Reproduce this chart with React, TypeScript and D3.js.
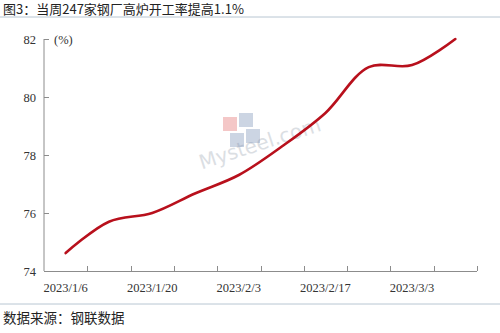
import React from "react";
import * as d3 from "d3";

const categories = ["2023/1/6", "2023/1/13", "2023/1/20", "2023/1/27", "2023/2/3", "2023/2/10", "2023/2/17", "2023/2/24", "2023/3/3", "2023/3/10"];
const values = [74.62, 75.7, 76.0, 76.68, 77.31, 78.3, 79.45, 81.03, 81.1, 82.0];
const yTicks = [74, 76, 78, 80, 82];
const xLabelIdx = [0, 2, 4, 6, 8];
const title = "图3：当周247家钢厂高炉开工率提高1.1%";
const source = "数据来源：钢联数据";

export default function App() {
  const W = 500, H = 333;
  const left = 44, right = 477, top = 39, bottom = 271;
  const x = d3.scaleBand<string>().domain(categories).range([left, right]).padding(0);
  const y = d3.scaleLinear().domain([74, 82]).range([bottom, top]);
  const cx = (c: string) => (x(c) as number) + x.bandwidth() / 2;
  const line = d3.line<number>()
    .x((_, i) => cx(categories[i]))
    .y((v) => y(v))
    .curve(d3.curveCatmullRom.alpha(0.5));
  const serif = "'Liberation Serif', 'Times New Roman', serif";
  const cjk = "'Noto Sans CJK SC', sans-serif";
  return (
    <svg width={W} height={H} style={{ position: "absolute", left: 0, top: 0, background: "#fff" }}>
      <rect x={0} y={0} width={W} height={H} fill="#fff" />
      <text x={3} y={14} fontFamily={cjk} fontSize={13} fill="#222">{title}</text>
      <line x1={0} x2={W} y1={17} y2={17} stroke="#b8c6d2" strokeWidth={1} />
      {/* watermark */}
      <g opacity={0.35} transform="translate(262,150) rotate(-18)">
        <text x={0} y={0} textAnchor="middle" fontFamily="'DejaVu Sans', sans-serif" fontSize={20} fill="#9aa4b0">Mysteel.com</text>
      </g>
      <g opacity={0.35}>
        <rect x={223} y={117} width={14} height={14} fill="#e06060" />
        <rect x={239} y={113} width={14} height={14} fill="#7088b0" />
        <rect x={230} y={133} width={14} height={14} fill="#7088b0" />
        <rect x={246} y={129} width={14} height={14} fill="#7088b0" />
      </g>
      {/* axes */}
      <line x1={left} x2={left} y1={top} y2={bottom} stroke="#8c8c8c" strokeWidth={1} />
      <line x1={left} x2={right} y1={bottom + 0.5} y2={bottom + 0.5} stroke="#8c8c8c" strokeWidth={1} />
      {yTicks.map((t) => (
        <g key={t}>
          <line x1={left} x2={left + 5} y1={Math.round(y(t)) + 0.5} y2={Math.round(y(t)) + 0.5} stroke="#8c8c8c" />
          <text x={36} y={y(t) + 4.5} textAnchor="end" fontFamily={serif} fontSize={12.5} fill="#333">{t}</text>
        </g>
      ))}
      <text x={54} y={44} fontFamily={serif} fontSize={12.5} fill="#333">(%)</text>
      {categories.map((c) => {
        const bx = Math.round((x(c) as number) + x.bandwidth()) + 0.5;
        return <line key={c} x1={bx} x2={bx} y1={bottom - 5} y2={bottom} stroke="#8c8c8c" />;
      })}
      {xLabelIdx.map((i) => (
        <text key={i} x={cx(categories[i])} y={292} textAnchor="middle" fontFamily={serif} fontSize={12.5} fill="#333">{categories[i]}</text>
      ))}
      <path d={line(values) || ""} fill="none" stroke="#b8101c" strokeWidth={2.6} strokeLinecap="round" />
      <line x1={0} x2={W} y1={304} y2={304} stroke="#b8c6d2" strokeWidth={1} />
      <text x={3} y={323} fontFamily={cjk} fontSize={13.5} fill="#222">{source}</text>
    </svg>
  );
}
